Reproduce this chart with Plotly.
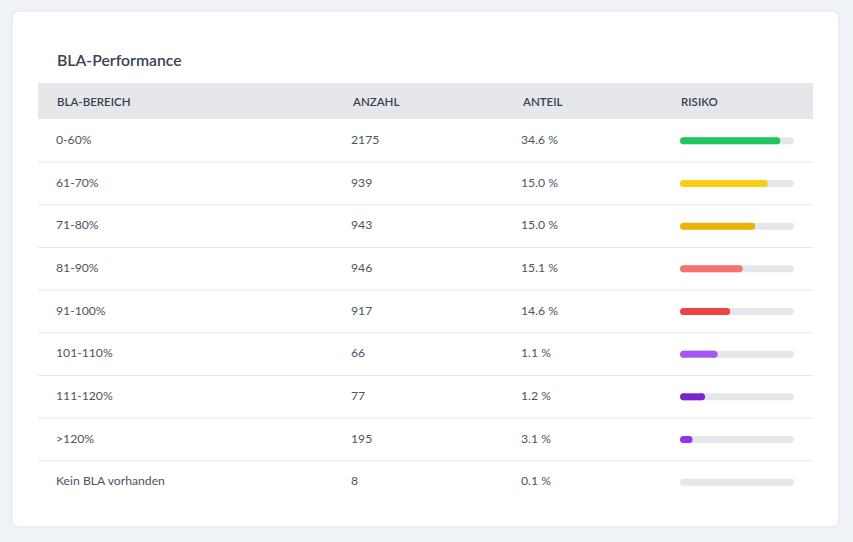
import plotly.graph_objects as go

# ---------------------------
# DATA
# ---------------------------
BEREICHE = ["0-60%", "61-70%", "71-80%", "81-90%", "91-100%",
            "101-110%", "111-120%", ">120%", "Kein BLA vorhanden"]
ANZAHL = [2175, 939, 943, 946, 917, 66, 77, 195, 8]
ANTEIL = [34.6, 15.0, 15.0, 15.1, 14.6, 1.1, 1.2, 3.1, 0.1]
RISIKO = [88, 77, 66, 55, 44, 33, 22, 11, 0]  # bar fill in %
RISIKO_FARBEN = ["#22c55e", "#facc15", "#eab308", "#f87171", "#ef4444",
                 "#a855f7", "#7e22ce", "#9333ea", "#e5e7eb"]
SPALTEN = ["BLA-BEREICH", "ANZAHL", "ANTEIL", "RISIKO"]
TITEL = "BLA-Performance"

# ---------------------------
# LAYOUT CONSTANTS (pixels)
# ---------------------------
W, H = 853, 542
FONT = "Lato, 'Open Sans', sans-serif"
PAGE_BG = "#eff3f8"
GRID = "#e5e7eb"
TXT = "#4b5563"
HEAD_TXT = "#374151"

TABLE_L, TABLE_R = 38, 813
HEAD_TOP, HEAD_BOT = 83, 119
ROW_Y0 = 140.8
ROW_H = 42.67
COL_X = [56, 351, 521, 680]
BAR_L, BAR_R = 680, 794
BAR_W = 7

n = len(BEREICHE)
row_y = [ROW_Y0 + i * ROW_H for i in range(n)]

fig = go.Figure()

# text columns
columns = [
    BEREICHE,
    [str(v) for v in ANZAHL],
    [f"{v:.1f} %" for v in ANTEIL],
]
for x, texts in zip(COL_X[:3], columns):
    fig.add_trace(go.Scatter(
        x=[x] * n, y=row_y, text=texts, mode="text",
        textposition="middle right",
        textfont=dict(family=FONT, size=12.2, color=TXT),
        hoverinfo="skip", showlegend=False,
    ))

# risk bars (track + fill); round caps come from end markers,
# so the line runs between the cap centres
cap = (BAR_W / 2) / (BAR_R - BAR_L) * 100  # cap radius in axis units


def pill(v, color):
    return go.Scatter(
        x=[cap, max(v - cap, cap)], y=[row_y[i]] * 2, xaxis="x2", yaxis="y",
        mode="lines+markers", cliponaxis=False,
        line=dict(color=color, width=BAR_W),
        marker=dict(size=BAR_W, color=color, line=dict(width=0)),
        hoverinfo="skip", showlegend=False,
    )


for i in range(n):
    fig.add_trace(pill(100, GRID))
    if RISIKO[i] > 0:
        fig.add_trace(pill(RISIKO[i], RISIKO_FARBEN[i]))

# ---------------------------
# SHAPES: card, header band, dividers
# ---------------------------
r = 8
cx0, cy0, cx1, cy1 = 12, 11, 839, 527
card_path = (f"M {cx0+r},{cy0} L {cx1-r},{cy0} Q {cx1},{cy0} {cx1},{cy0+r} "
             f"L {cx1},{cy1-r} Q {cx1},{cy1} {cx1-r},{cy1} "
             f"L {cx0+r},{cy1} Q {cx0},{cy1} {cx0},{cy1-r} "
             f"L {cx0},{cy0+r} Q {cx0},{cy0} {cx0+r},{cy0} Z")
shapes = [
    dict(type="path", path=card_path, xref="x", yref="y",
         fillcolor="white", line=dict(color="#e1e5eb", width=1), layer="below"),
    dict(type="rect", xref="x", yref="y", x0=TABLE_L, x1=TABLE_R,
         y0=HEAD_TOP, y1=HEAD_BOT, fillcolor=GRID, line=dict(width=0), layer="below"),
]
for i in range(n - 1):
    yy = ROW_Y0 + (i + 0.5) * ROW_H
    shapes.append(dict(type="line", xref="x", yref="y", x0=TABLE_L, x1=TABLE_R,
                       y0=yy, y1=yy, line=dict(color=GRID, width=1), layer="below"))

annotations = [
    dict(x=COL_X[0] - 1, y=59, xref="x", yref="y", text=TITEL, showarrow=False,
         xanchor="left", yanchor="middle",
         font=dict(family=FONT, size=15.8, color="#3b4252", weight=600)),
]
for x, label in zip(COL_X, SPALTEN):
    annotations.append(dict(
        x=x - 1, y=(HEAD_TOP + HEAD_BOT) / 2, xref="x", yref="y", text=label,
        showarrow=False, xanchor="left", yanchor="middle",
        font=dict(family=FONT, size=11.5, color=HEAD_TXT, weight=600)))

fig.update_layout(
    width=W, height=H,
    margin=dict(l=0, r=0, t=0, b=0),
    paper_bgcolor=PAGE_BG, plot_bgcolor="rgba(0,0,0,0)",
    xaxis=dict(range=[0, W], domain=[0, 1], visible=False, fixedrange=True),
    xaxis2=dict(range=[0, 100], domain=[BAR_L / W, BAR_R / W],
                anchor="y", visible=False, fixedrange=True),
    yaxis=dict(range=[H, 0], domain=[0, 1], visible=False, fixedrange=True),
    shapes=shapes,
    annotations=annotations,
    font=dict(family=FONT),
)

fig.write_html(
    "out.html",
    config={"displayModeBar": False},
    post_script=f"document.body.style.margin='0';document.body.style.background='{PAGE_BG}';",
)
